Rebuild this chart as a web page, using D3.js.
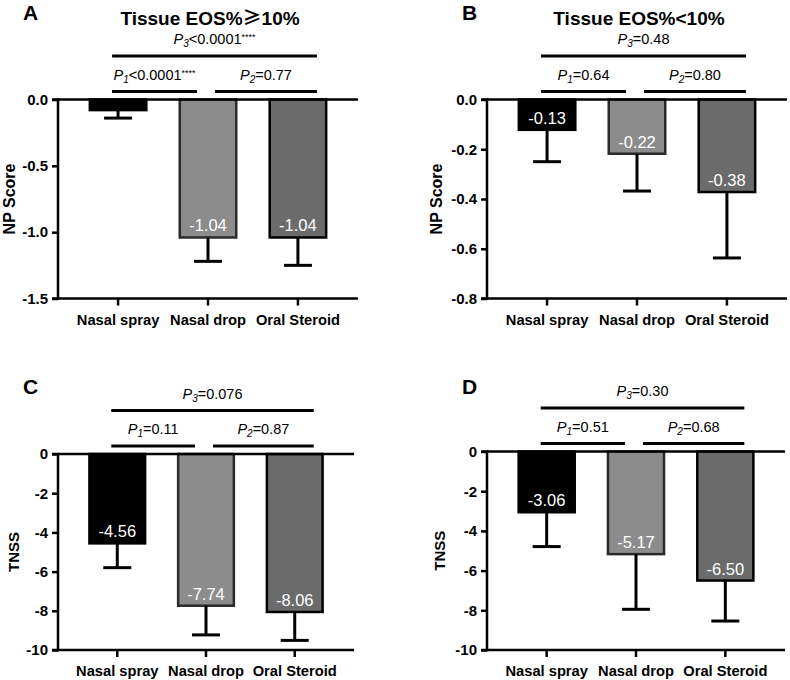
<!DOCTYPE html>
<html>
<head>
<meta charset="utf-8">
<script src="https://cdn.jsdelivr.net/npm/d3@7"></script>
<style>
  html, body { margin: 0; padding: 0; background: #fff; }
  svg { display: block; font-family: "Liberation Sans", Arial, sans-serif; }
</style>
</head>
<body>
<svg id="chart" width="790" height="680"></svg>
<script>
// ---- Data ----
const categories = ["Nasal spray", "Nasal drop", "Oral Steroid"];
const barColors = ["#000000", "#8c8c8c", "#6b6b6b"];
const barStrokes = ["#000000", "#2a2a2a", "#000000"];

// Panel A: NP score, tissue EOS% >= 10%
const meansA = [-0.08, -1.04, -1.04];
const sdA = [0.06, 0.18, 0.21];
const labelsA = ["", "-1.04", "-1.04"];
const ticksA = [0, -0.5, -1.0, -1.5];
const pA = [["1", "<0.0001", "****"], ["2", "=0.77", ""], ["3", "<0.0001", "****"]];

// Panel B: NP score, tissue EOS% < 10%
const meansB = [-0.122, -0.218, -0.372];
const sdB = [0.128, 0.150, 0.265];
const labelsB = ["-0.13", "-0.22", "-0.38"];
const ticksB = [0, -0.2, -0.4, -0.6, -0.8];
const pB = [["1", "=0.64", ""], ["2", "=0.80", ""], ["3", "=0.48", ""]];

// Panel C: TNSS, tissue EOS% >= 10%
const meansC = [-4.56, -7.74, -8.06];
const sdC = [1.24, 1.49, 1.45];
const labelsC = ["-4.56", "-7.74", "-8.06"];
const ticksC = [0, -2, -4, -6, -8, -10];
const pC = [["1", "=0.11", ""], ["2", "=0.87", ""], ["3", "=0.076", ""]];

// Panel D: TNSS, tissue EOS% < 10%
const meansD = [-3.06, -5.17, -6.50];
const sdD = [1.73, 2.78, 2.04];
const labelsD = ["-3.06", "-5.17", "-6.50"];
const ticksD = [0, -2, -4, -6, -8, -10];
const pD = [["1", "=0.51", ""], ["2", "=0.68", ""], ["3", "=0.30", ""]];

const titleA = ["Tissue EOS%", "\u2265", "10%"];
const titleB = ["Tissue EOS%<10%", "", ""];

// ---- Layout ----
const svg = d3.select("#chart");
const hy = f => (v => f(v).replace("\u2212", "-"));

const panels = [
  { letter: "A", title: titleA, means: meansA, sd: sdA, labels: labelsA, ticks: ticksA, p: pA,
    ylab: "NP Score", fmt: hy(d3.format(".1f")), min: -1.5,
    x0: 58, x1: 358, y0: 99.5, y1: 298.5, letterX: 23, letterY: 19.5, ylabX: 15, ylabSize: 16 },
  { letter: "B", title: titleB, means: meansB, sd: sdB, labels: labelsB, ticks: ticksB, p: pB,
    ylab: "NP Score", fmt: hy(d3.format(".1f")), min: -0.8,
    x0: 487, x1: 787, y0: 99.5, y1: 298.5, letterX: 462, letterY: 19.5, ylabX: 442, ylabSize: 16 },
  { letter: "C", title: null, means: meansC, sd: sdC, labels: labelsC, ticks: ticksC, p: pC,
    ylab: "TNSS", fmt: hy(d3.format("d")), min: -10,
    x0: 58, x1: 354, y0: 454, y1: 650, letterX: 23, letterY: 393.5, ylabX: 19, ylabSize: 15 },
  { letter: "D", title: null, means: meansD, sd: sdD, labels: labelsD, ticks: ticksD, p: pD,
    ylab: "TNSS", fmt: hy(d3.format("d")), min: -10,
    x0: 487, x1: 785, y0: 451.5, y1: 650, letterX: 462, letterY: 393.5, ylabX: 445, ylabSize: 15 }
];

panels.forEach(P => {
  const g = svg.append("g");
  const x = d3.scaleBand().domain(categories).range([P.x0, P.x1])
    .paddingInner(0.344).paddingOuter(0.34);
  const y = d3.scaleLinear().domain([0, P.min]).range([P.y0, P.y1]);
  const bw = x.bandwidth();
  const cx = c => x(c) + bw / 2;

  // bars
  g.selectAll("rect.bar").data(categories).join("rect")
    .attr("x", c => x(c) + 1.25)
    .attr("y", y(0))
    .attr("width", bw - 2.5)
    .attr("height", (c, i) => y(P.means[i]) - y(0))
    .attr("fill", (c, i) => barColors[i])
    .attr("stroke", (c, i) => barStrokes[i])
    .attr("stroke-width", 2.5);

  // error bars (downward)
  categories.forEach((c, i) => {
    const yTop = y(P.means[i]);
    const yEnd = y(P.means[i] - P.sd[i]);
    g.append("line").attr("x1", cx(c)).attr("x2", cx(c))
      .attr("y1", yTop).attr("y2", yEnd)
      .attr("stroke", "#000").attr("stroke-width", 3);
    g.append("line").attr("x1", cx(c) - 14).attr("x2", cx(c) + 14)
      .attr("y1", yEnd).attr("y2", yEnd)
      .attr("stroke", "#000").attr("stroke-width", 3);
    if (P.labels[i]) {
      g.append("text").attr("x", cx(c)).attr("y", yTop - 6)
        .attr("text-anchor", "middle").attr("fill", "#fff")
        .attr("font-size", 16.5).text(P.labels[i]);
    }
  });

  // left axis
  const yAxis = d3.axisLeft(y).tickValues(P.ticks).tickFormat(P.fmt).tickSize(6).tickPadding(4);
  const ga = g.append("g").attr("transform", `translate(${P.x0},0)`).call(yAxis);
  ga.select(".domain").attr("stroke-width", 2.5).attr("d", `M-6,${P.y1}H0V${P.y0}H-6`);
  ga.selectAll(".tick line").attr("stroke-width", 2.5);
  ga.selectAll(".tick text").attr("font-size", 15).attr("font-weight", "bold")
    .attr("font-family", "Liberation Sans, Arial, sans-serif").attr("fill", "#000");

  // bottom axis
  const xAxis = d3.axisBottom(x).tickSize(7).tickPadding(9);
  const gb = g.append("g").attr("transform", `translate(0,${P.y1})`).call(xAxis);
  gb.select(".domain").attr("stroke-width", 2.5).attr("d", `M${P.x0},0H${P.x1}`);
  gb.selectAll(".tick line").attr("stroke-width", 2.5);
  gb.selectAll(".tick text").attr("font-size", 14.7).attr("font-weight", "bold")
    .attr("font-family", "Liberation Sans, Arial, sans-serif").attr("fill", "#000");

  // zero line on top
  g.append("line").attr("x1", P.x0).attr("x2", P.x1)
    .attr("y1", y(0)).attr("y2", y(0))
    .attr("stroke", "#000").attr("stroke-width", 2.5);

  // y label
  const ymid = (P.y0 + P.y1) / 2;
  g.append("text").attr("transform", `translate(${P.ylabX},${ymid}) rotate(-90)`)
    .attr("text-anchor", "middle").attr("font-weight", "bold")
    .attr("font-size", P.ylabSize).text(P.ylab);

  // panel letter
  g.append("text").attr("x", P.letterX).attr("y", P.letterY)
    .attr("font-weight", "bold").attr("font-size", 21).text(P.letter);

  // title
  if (P.title) {
    const t = g.append("text").attr("x", cx(categories[1]) + 2).attr("y", 25)
      .attr("text-anchor", "middle").attr("font-weight", "bold")
      .attr("font-size", 19);
    t.append("tspan").text(P.title[0]);
    if (P.title[1]) {
      t.append("tspan").attr("font-family", "Noto Sans CJK SC").attr("font-weight", "bold")
        .text(P.title[1]);
      t.append("tspan").text(P.title[2]);
    }
  }

  // significance brackets
  const lineY1 = y(0) - 8;
  const lineY3 = lineY1 - 35.5;
  const brackets = [
    { xa: cx(categories[0]) - 6, xb: cx(categories[1]) - 11, ly: lineY1, p: P.p[0] },
    { xa: cx(categories[1]) + 7, xb: cx(categories[2]) + 19, ly: lineY1, p: P.p[1] },
    { xa: cx(categories[0]) - 6, xb: cx(categories[2]) + 19, ly: lineY3, p: P.p[2] }
  ];
  brackets.forEach(b => {
    g.append("line").attr("x1", b.xa).attr("x2", b.xb).attr("y1", b.ly).attr("y2", b.ly)
      .attr("stroke", "#000").attr("stroke-width", 3);
    const t = g.append("text").attr("x", (b.xa + b.xb) / 2).attr("y", b.ly - 12)
      .attr("text-anchor", "middle").attr("font-size", 14.5);
    t.append("tspan").attr("font-style", "italic").text("P");
    t.append("tspan").attr("font-style", "italic").attr("font-size", 10).attr("dy", 3).text(b.p[0]);
    t.append("tspan").attr("dy", -3).text(b.p[1]);
    if (b.p[2]) {
      t.append("tspan").attr("font-size", 9).attr("dy", -4).text(b.p[2]);
    }
  });
});
</script>
</body>
</html>
